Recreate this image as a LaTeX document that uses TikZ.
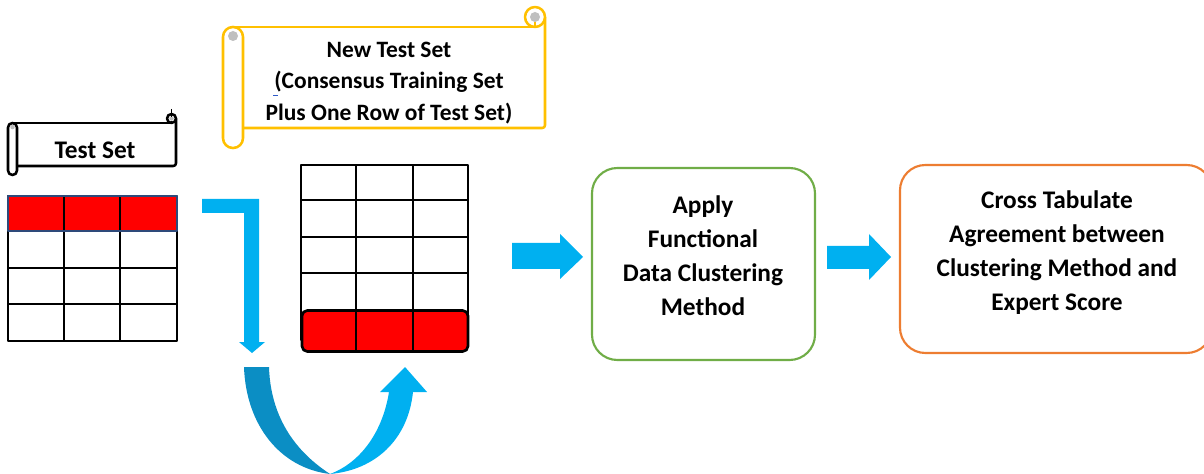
\documentclass[tikz,border=0pt]{standalone}
\usepackage{fontspec}
\setmainfont{Carlito}
\definecolor{arrowblue}{HTML}{00B0F0}
\definecolor{arrowdark}{HTML}{0B8EC4}
\definecolor{scrollgold}{HTML}{FFC000}
\definecolor{boxgreen}{HTML}{70AD47}
\definecolor{boxorange}{HTML}{ED7D31}
\definecolor{rowred}{HTML}{FF0000}
\definecolor{rownavy}{HTML}{2E4A7A}
\definecolor{curlgray}{HTML}{BFBFBF}
\definecolor{spellblue}{HTML}{2F5BC8}

% Horizontal scroll banner: left, top, right, bottom, roll size, colour
\newcommand{\scrollbanner}[6]{%
  \fill[white] ({#1+#5/2},{#2+#5}) rectangle (#3,{#4-#5});
  \draw[#6, line width=1.9pt] ({#1+#5/2},{#2+#5}) -- ({#3-#5/2},{#2+#5});
  \draw[#6, line width=1.9pt, rounded corners=2pt] (#3,{#2+#5/2}) -- (#3,{#4-#5}) -- ({#1+#5},{#4-#5});
  % top right roll
  \filldraw[fill=white, draw=#6, line width=1.9pt] ({#3-#5/2},{#2+#5/2}) circle[radius={#5/2}];
  \fill[curlgray] ({#3-#5/2},{#2+#5*0.5}) circle[radius={#5/4}];
  \draw[#6, line width=1.2pt] ({#3-#5/2},{#2+#5*0.75}) -- ({#3-#5/2},{#2+#5});
  % left roll
  \filldraw[fill=white, draw=#6, line width=1.9pt, rounded corners={#5*0.37pt}] (#1,{#2+#5}) rectangle ({#1+#5},#4);
  \fill[curlgray] ({#1+#5/2},{#2+#5*1.45}) circle[radius={#5/4}];
}

\begin{document}
\begin{tikzpicture}[x=0.75pt, y=-0.75pt, line join=round,
  lbl/.style={font=\bfseries\fontsize{19}{25.5}\selectfont, align=center, text=black, inner sep=0pt},
  gridline/.style={draw=black, line width=1pt},
  flow/.style={fill=arrowblue, draw=none},
  stagebox/.style={draw, line width=1.6pt, rounded corners=19pt, fill=white}]
\useasboundingbox (0,0) rectangle (1204,474);
\clip (0,0) rectangle (1204,474);

% ---- Test set banner and table ----
\scrollbanner{8}{114}{176}{175}{9}{black}
\draw[black, line width=1.2pt] (171.5,109) -- (171.5,117);
\node[lbl] (testtxt) at (95,150) {Test Set};

\fill[rowred] (8,196) rectangle (177,231);
\draw[gridline] (8,196) rectangle (177,341);
\foreach \x in {64,120} \draw[gridline] (\x,196) -- (\x,341);
\foreach \y in {268,304} \draw[gridline] (8,\y) -- (177,\y);
\draw[rownavy, line width=1.6pt] (8,196) rectangle (177,231);
\node[inner sep=0pt, minimum width=126.75pt, minimum height=26.25pt] (testrow) at (92.5,213.5) {};

% ---- New test set banner and table ----
\scrollbanner{223}{7}{545}{148}{20}{scrollgold}
\node[lbl, font=\bfseries\fontsize{17.6}{23.6}\selectfont] (newtxt) at (389,83)
  {New Test Set\\(Consensus Training Set\\Plus One Row of Test Set)};
\draw[spellblue, line width=0.7pt] (273,95.5) -- (278,95.5);

\draw[gridline] (301,165) rectangle (468,340);
\foreach \x in {356,413} \draw[gridline] (\x,165) -- (\x,352);
\foreach \y in {200,237,273} \draw[gridline] (301,\y) -- (468,\y);
\node[draw=black, fill=rowred, line width=2pt, rounded corners=4pt, inner sep=0pt,
      minimum width=124.5pt, minimum height=30.75pt] (newrow) at (385,331) {};
\foreach \x in {356,413} \draw[gridline] (\x,312) -- (\x,350);

% ---- Row moved from the test set into the new test set ----
\fill[flow] (202,199) -- (259,199) -- (259,342) -- (265,342) -- (252,353)
  -- (239,342) -- (244,342) -- (244,213) -- (202,213) -- cycle;
\fill[arrowdark] (244,367) .. controls (246,425) and (280,468) .. (330,474)
  .. controls (312,462) and (271,432) .. (269,367) -- cycle;
\fill[flow] (330,474) .. controls (375,470) and (408,440) .. (413,392)
  -- (427,392) -- (405,367) -- (380,392) -- (389,392)
  .. controls (383,430) and (362,462) .. (330,474) -- cycle;

% ---- Processing stages ----
\node[stagebox, draw=boxgreen, minimum width=167.25pt, minimum height=144pt] (apply) at (703.5,264) {};
\node[lbl] (applytxt) at (703,256) {Apply\\Functional\\Data Clustering\\Method};

\node[stagebox, draw=boxorange, minimum width=234pt, minimum height=141pt] (cross) at (1056,259) {};
\node[lbl] (crosstxt) at (1057,253) {Cross Tabulate\\Agreement between\\Clustering Method and\\Expert Score};

\fill[flow] (512,243) -- (560,243) -- (560,234) -- (583,257) -- (560,279) -- (560,269) -- (512,269) -- cycle;
\fill[flow] (827,246) -- (869,246) -- (869,234) -- (891,257) -- (869,280) -- (869,269) -- (827,269) -- cycle;
\end{tikzpicture}
\end{document}
